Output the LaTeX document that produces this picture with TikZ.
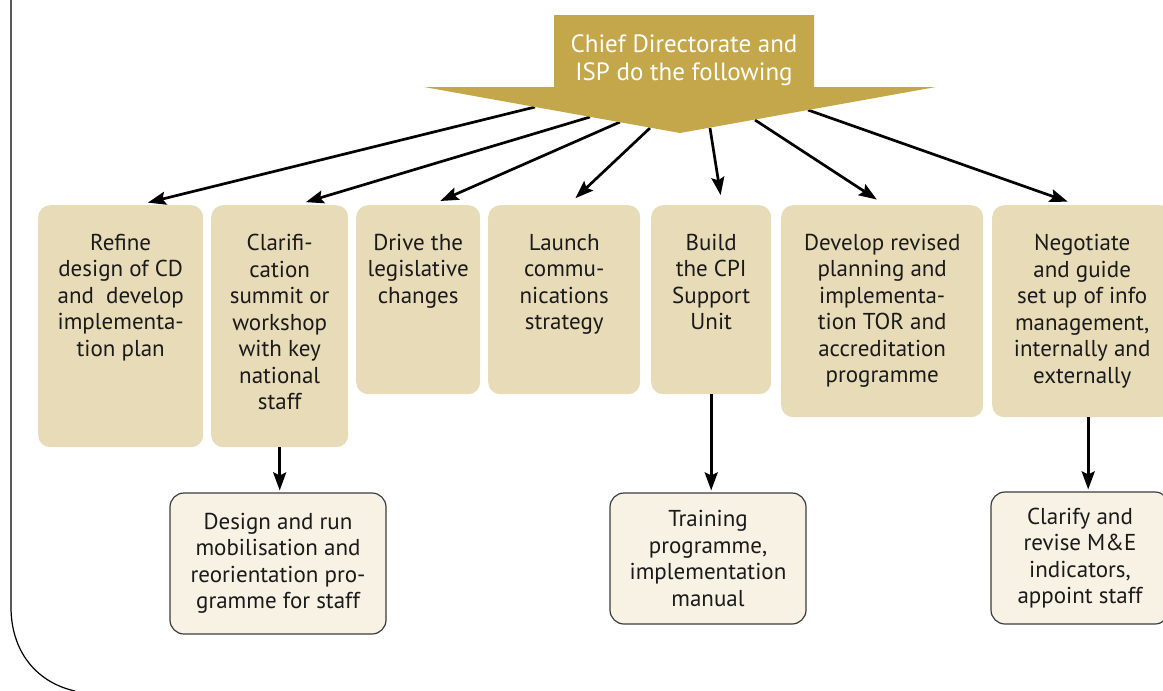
\documentclass[tikz,border=0pt]{standalone}
\usepackage{fontspec}
\setmainfont{PT Sans}
\usetikzlibrary{arrows.meta}

\definecolor{gold}{HTML}{C4A74A}
\definecolor{boxtan}{HTML}{E8DCB8}
\definecolor{cream}{HTML}{F7F2E4}
\definecolor{ink}{HTML}{1A1A1A}

\newcommand{\boxfont}{\fontsize{23}{26.5}\selectfont}
\newcommand{\headfont}{\fontsize{25}{27.5}\selectfont}

\tikzset{
  topbox/.style={fill=boxtan, rounded corners=12, inner sep=0, anchor=north west},
  boxtext/.style={align=center, font=\boxfont, text=ink, anchor=north, inner sep=0},
  botbox/.style={fill=cream, draw=ink!85, line width=1.2, rounded corners=14,
    align=center, font=\boxfont, text=ink, inner sep=0},
  link/.style={line width=2.7, -{Stealth[length=18,width=13,inset=3]}},
  fan/.style={link, shorten >=10}
}

\begin{document}
\begin{tikzpicture}[x=1pt,y=-1pt]
  \clip (0,0) rectangle (1163,691);

  % Frame on the left
  \draw[line width=1.2] (11,0) -- (11,607) .. controls (11,650) and (35,682) .. (75,691);

  % Top row of tasks
  \node[topbox, minimum width=165, minimum height=242] (box1) at (38,205) {};
  \node[topbox, minimum width=137, minimum height=242] (box2) at (211,205) {};
  \node[topbox, minimum width=124, minimum height=189] (box3) at (356,205) {};
  \node[topbox, minimum width=152, minimum height=189] (box4) at (488,205) {};
  \node[topbox, minimum width=120, minimum height=189] (box5) at (651,205) {};
  \node[topbox, minimum width=202, minimum height=212] (box6) at (781,205) {};
  \node[topbox, minimum width=180, minimum height=212] (box7) at (992,205) {};

  \node[boxtext] (t1) at ([yshift=-29]box1.north) {Refine\\design of CD\\and\ \ develop\\implementa-\\tion plan};
  \node[boxtext] (t2) at ([yshift=-29]box2.north) {Clarifi-\\cation\\summit or\\workshop\\with key\\national\\staff};
  \node[boxtext] (t3) at ([yshift=-29]box3.north) {Drive the\\legislative\\changes};
  \node[boxtext] (t4) at ([yshift=-29]box4.north) {Launch\\commu-\\nications\\strategy};
  \node[boxtext] (t5) at ([yshift=-29]box5.north) {Build\\the CPI\\Support\\Unit};
  \node[boxtext] (t6) at ([yshift=-29]box6.north) {Develop revised\\planning and\\implementa-\\tion TOR and\\accreditation\\programme};
  \node[boxtext] (t7) at ([yshift=-29]box7.north) {Negotiate\\and guide\\set up of info\\management,\\internally and\\externally};

  % Second row
  \node[botbox, minimum width=216, minimum height=141] (bot1) at (278,563.5) {Design and run\\mobilisation and\\reorientation pro-\\gramme for staff};
  \node[botbox, minimum width=196, minimum height=131] (bot2) at (708,558.5) {Training\\programme,\\implementation\\manual};
  \node[botbox, minimum width=178, minimum height=132] (bot3) at (1080,558) {Clarify and\\revise M\&E\\indicators,\\appoint staff};

  % Fan of arrows from the header
  \coordinate (h1) at (535,107);
  \coordinate (h2) at (590,117);
  \coordinate (h3) at (620,122);
  \coordinate (h4) at (650,128);
  \coordinate (h5) at (710,128);
  \coordinate (h6) at (755,120);
  \coordinate (h7) at (808,110);

  \draw[fan] (h1) -- ([xshift=17.5]box1.north);
  \draw[fan] (h2) -- ([xshift=16.5]box2.north);
  \draw[fan] (h3) -- ([xshift=13]box3.north);
  \draw[fan] (h4) -- ([xshift=4]box4.north);
  \draw[fan] (h5) -- ([xshift=11]box5.north);
  \draw[fan] (h6) -- ([xshift=3]box6.north);
  \draw[fan] (h7) -- ([xshift=-5]box7.north);

  % Header
  \fill[gold] (554,15) -- (814,15) -- (814,87) -- (936,87) -- (680,133) -- (424,87) -- (554,87) -- cycle;
  \node[font=\headfont, text=white, align=center] (head) at (684,60) {Chief Directorate and\\ISP do the following};

  % Down arrows
  \draw[link, shorten >=2] (box2.south) -- (box2.south |- bot1.north);
  \draw[link, shorten >=2] (box5.south) -- (box5.south |- bot2.north);
  \draw[link, shorten >=2] ([xshift=6]box7.south) -- ([xshift=6]box7.south |- bot3.north);
\end{tikzpicture}
\end{document}
